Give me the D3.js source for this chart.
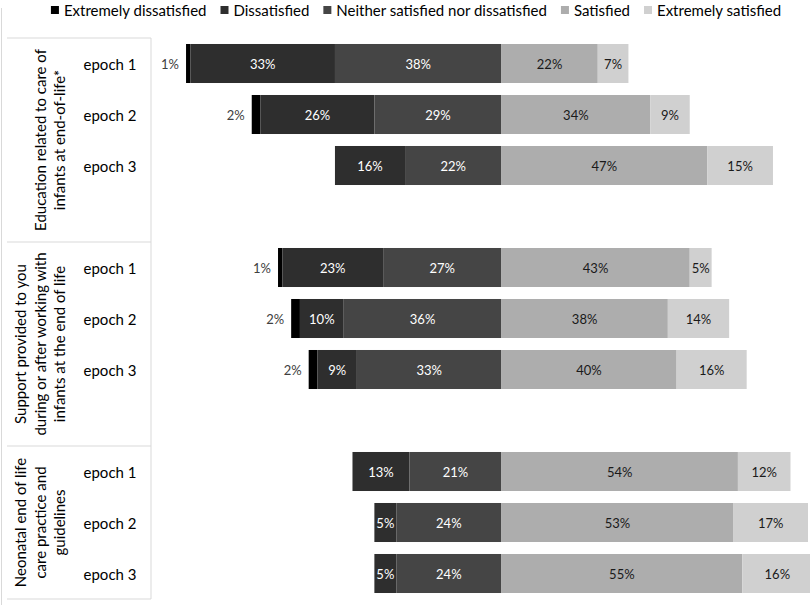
<!DOCTYPE html>
<html>
<head>
<meta charset="utf-8">
<script src="https://cdn.jsdelivr.net/npm/d3@7"></script>
<style>
body { margin: 0; background: #fff; }
text { font-family: Lato, "Open Sans", sans-serif; }
</style>
</head>
<body>
<div id="chart"></div>
<script>
// response levels, left to right
var levels = ["Extremely dissatisfied", "Dissatisfied", "Neither satisfied nor dissatisfied", "Satisfied", "Extremely satisfied"];
var colors = ["#000000", "#2e2e2e", "#454545", "#adadad", "#d0d0d0"];

var topics = [
    ["Education related to care of", "infants at end-of-life*"],
    ["Support provided to you", "during or after working with", "infants at the end of life"],
    ["Neonatal end of life", "care practice and", "guidelines"]
];
var epochs = ["epoch 1", "epoch 2", "epoch 3"];

// percentages per epoch: [ext. dissatisfied, dissatisfied, neither, satisfied, ext. satisfied]
var education = [[1, 33, 38, 22, 7], [2, 26, 29, 34, 9], [0, 16, 22, 47, 15]];
var support = [[1, 23, 27, 43, 5], [2, 10, 36, 38, 14], [2, 9, 33, 40, 16]];
var guidelines = [[0, 13, 21, 54, 12], [0, 5, 24, 53, 17], [0, 5, 24, 55, 16]];

var width = 810;
var height = 605;

var svg = d3.select("#chart")
    .append("svg")
    .attr("width", width)
    .attr("height", height);

// build the row list, with a blank spacer row between topics
var series = [education, support, guidelines];
var rows = [];
series.forEach(function(s, gi) {
    s.forEach(function(vals, ei) {
        rows.push({ key: gi + "-" + ei, group: gi, epoch: epochs[ei], values: vals });
    });
    if (gi < series.length - 1) {
        rows.push({ key: "gap" + gi, group: gi, spacer: true });
    }
});

var y = d3.scaleBand()
    .domain(rows.map(function(r) { return r.key; }))
    .range([38, 599])
    .paddingInner(0.235)
    .paddingOuter(0.1175);

// diverging scale, 0 = split between neutral and satisfied
var x = d3.scaleLinear()
    .domain([-80, 70])
    .range([151, 808]);

var lineColor = "#d9d9d9";

// outer chart frame on the left
svg.append("line")
    .attr("x1", 1.5).attr("x2", 1.5)
    .attr("y1", 8).attr("y2", height)
    .attr("stroke", lineColor);

// topic table on the left
var slotPad = (y.step() - y.bandwidth()) / 2;
var groupTop = [], groupBottom = [];
topics.forEach(function(t, gi) {
    var gRows = rows.filter(function(r) { return r.group === gi; });
    var first = gRows[0], last = gRows[gRows.length - 1];
    groupTop.push(y(first.key) - slotPad);
    groupBottom.push(y(last.key) + y.bandwidth() + slotPad);
});

var table = svg.append("g");
groupTop.concat([groupBottom[groupBottom.length - 1]]).forEach(function(yy) {
    table.append("line")
        .attr("x1", 7).attr("x2", 151)
        .attr("y1", yy).attr("y2", yy)
        .attr("stroke", lineColor);
});
table.append("line")
    .attr("x1", 151).attr("x2", 151)
    .attr("y1", groupTop[0]).attr("y2", groupBottom[groupBottom.length - 1])
    .attr("stroke", lineColor);

topics.forEach(function(lines, gi) {
    var cy = (groupTop[gi] + groupBottom[gi]) / 2;
    var n = lines.length;
    lines.forEach(function(line, li) {
        var cx = 59 - (n - 1 - li) * 19.5;
        table.append("text")
            .attr("transform", "translate(" + cx + "," + cy + ") rotate(-90)")
            .attr("text-anchor", "middle")
            .attr("dominant-baseline", "central")
            .attr("font-size", 15)
            .attr("fill", "#000")
            .text(line);
    });
});

// epoch labels
var dataRows = rows.filter(function(r) { return !r.spacer; });
svg.append("g").selectAll("text")
    .data(dataRows)
    .enter()
    .append("text")
    .attr("x", 110)
    .attr("y", function(d) { return y(d.key) + y.bandwidth() / 2; })
    .attr("text-anchor", "middle")
    .attr("dominant-baseline", "central")
    .attr("font-size", 15)
    .attr("fill", "#000")
    .text(function(d) { return d.epoch; });

// stacked segments
dataRows.forEach(function(r) {
    var v = r.values;
    var start = -(v[0] + v[1] + v[2]);
    var segs = [];
    var acc = start;
    v.forEach(function(val, i) {
        segs.push({ i: i, val: val, x0: acc, x1: acc + val });
        acc += val;
    });

    var g = svg.append("g");
    g.selectAll("rect")
        .data(segs.filter(function(s) { return s.val > 0; }))
        .enter()
        .append("rect")
        .attr("x", function(s) { return x(s.x0); })
        .attr("width", function(s) { return x(s.x1) - x(s.x0); })
        .attr("y", y(r.key))
        .attr("height", y.bandwidth())
        .attr("fill", function(s) { return colors[s.i]; });

    g.selectAll("text")
        .data(segs.filter(function(s) { return s.val > 0; }))
        .enter()
        .append("text")
        .attr("x", function(s) {
            if (s.i === 0) return x(s.x0) - 7;
            return (x(s.x0) + x(s.x1)) / 2;
        })
        .attr("y", y(r.key) + y.bandwidth() / 2)
        .attr("text-anchor", function(s) { return s.i === 0 ? "end" : "middle"; })
        .attr("dominant-baseline", "central")
        .attr("font-size", 13)
        .attr("fill", function(s) {
            if (s.i === 0) return "#404040";
            return s.i < 3 ? "#ffffff" : "#1a1a1a";
        })
        .text(function(s) { return s.val + "%"; });
});

// legend across the top
var legend = svg.append("g");
var lx = 0;
var items = [];
levels.forEach(function(name, i) {
    var item = legend.append("g");
    item.append("rect")
        .attr("x", 0).attr("y", -4)
        .attr("width", 8).attr("height", 8)
        .attr("fill", colors[i]);
    var t = item.append("text")
        .attr("x", 13)
        .attr("y", 0)
        .attr("dominant-baseline", "central")
        .attr("font-size", 15)
        .attr("fill", "#000")
        .text(name);
    item.attr("transform", "translate(" + lx + ",10)");
    lx += 13 + t.node().getComputedTextLength() + 14;
});
var legendWidth = lx - 14;
legend.attr("transform", "translate(" + (416 - legendWidth / 2) + ",0)");
</script>
</body>
</html>
